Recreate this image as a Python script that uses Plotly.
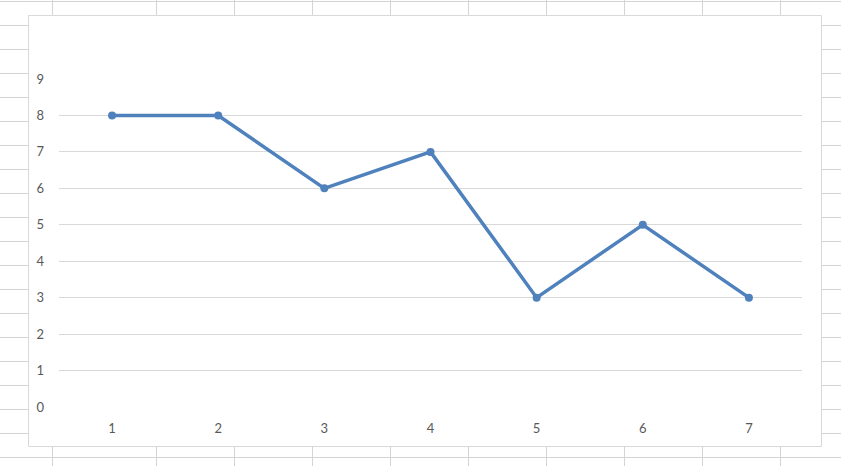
import plotly.graph_objects as go

categories = ["1", "2", "3", "4", "5", "6", "7"]
values = [8, 8, 6, 7, 3, 5, 3]
y_ticks = [0, 1, 2, 3, 4, 5, 6, 7, 8, 9]

W, H = 841, 466
L, R, T, B = 59, 802, 79, 407  # plot area in pixels


def px_x(px):
    return (px - L) / (R - L)


def px_y(py):
    return (B - py) / (B - T)


shapes = []
grid_col = "#d4d4d4"
# spreadsheet rows and columns behind the chart
row_ys = [1 + 24 * i for i in range(20)]
col_xs = [52, 156, 234, 312, 390, 468, 546, 624, 702, 780]
for y in row_ys:
    shapes.append(dict(type="line", xref="paper", yref="paper", layer="below",
                       x0=px_x(0), x1=px_x(W), y0=px_y(y + 0.5), y1=px_y(y + 0.5),
                       line=dict(color=grid_col, width=1)))
for x in col_xs:
    shapes.append(dict(type="line", xref="paper", yref="paper", layer="below",
                       x0=px_x(x + 0.5), x1=px_x(x + 0.5), y0=px_y(0), y1=px_y(H),
                       line=dict(color=grid_col, width=1)))
# chart area
shapes.append(dict(type="rect", xref="paper", yref="paper", layer="below",
                   x0=px_x(28.5), x1=px_x(821.5), y0=px_y(15.5), y1=px_y(446.5),
                   fillcolor="white", line=dict(color="#d9d9d9", width=1)))

fig = go.Figure()
fig.add_trace(go.Scatter(
    x=list(range(1, len(categories) + 1)), y=values, mode="lines+markers",
    line=dict(color="#4F81BD", width=3.5),
    marker=dict(color="#4F81BD", size=8),
    hoverinfo="skip",
))

fig.update_layout(
    width=W, height=H,
    margin=dict(l=L, r=W - R, t=T, b=H - B, pad=0),
    paper_bgcolor="white", plot_bgcolor="rgba(0,0,0,0)",
    showlegend=False,
    shapes=shapes,
    font=dict(family="Lato, Liberation Sans, sans-serif", size=13, color="#595959"),
    xaxis=dict(range=[0.5, 7.5], tickmode="array",
               tickvals=list(range(1, len(categories) + 1)), ticktext=categories,
               showgrid=False, zeroline=False, showline=False, ticks="",
               ticklabelstandoff=12, fixedrange=True),
    yaxis=dict(range=[0, 9], tickmode="array", tickvals=y_ticks,
               ticktext=[str(v) for v in y_ticks],
               showgrid=True, gridcolor="#d9d9d9", gridwidth=1,
               zeroline=False, showline=False, ticks="",
               ticklabelstandoff=14, fixedrange=True),
)

fig.write_html("out.html", config={"displayModeBar": False},
               post_script="document.body.style.margin='0';document.body.style.overflow='hidden';")
